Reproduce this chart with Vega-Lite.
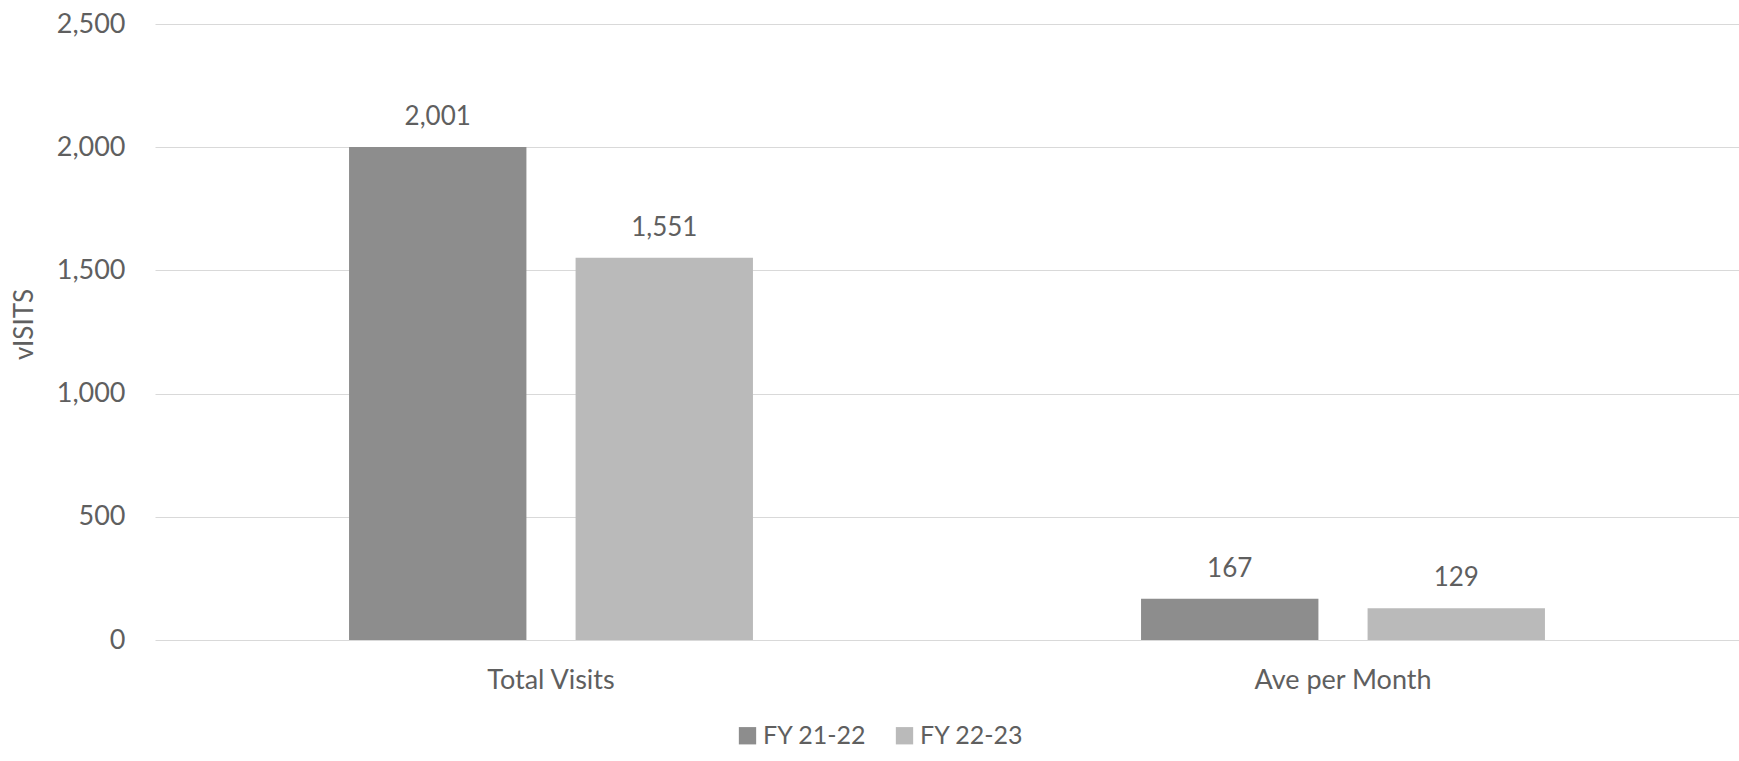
{
  "$schema": "https://vega.github.io/schema/vega-lite/v6.json",
  "width": 1584,
  "height": 616,
  "autosize": {"type": "none"},
  "padding": {"left": 155, "top": 24, "right": 0, "bottom": 121},
  "background": "white",
  "config": {
    "view": {"stroke": null},
    "font": "Lato",
    "axis": {"labelFont": "Lato", "titleFont": "Lato", "labelColor": "#5f5f5f", "titleColor": "#5f5f5f"}
  },
  "data": {
    "values": [
      {"measure": "Total Visits", "year": "FY 21-22", "visits": 2001},
      {"measure": "Total Visits", "year": "FY 22-23", "visits": 1551},
      {"measure": "Ave per Month", "year": "FY 21-22", "visits": 167},
      {"measure": "Ave per Month", "year": "FY 22-23", "visits": 129}
    ]
  },
  "encoding": {
    "x": {
      "field": "measure",
      "type": "nominal",
      "sort": ["Total Visits", "Ave per Month"],
      "scale": {"paddingInner": 0.49, "paddingOuter": 0.245},
      "axis": {
        "title": null,
        "labelAngle": 0,
        "domain": false,
        "ticks": false,
        "labelFontSize": 27,
        "labelBaseline": "middle",
        "labelPadding": 40
      }
    },
    "xOffset": {
      "field": "year",
      "type": "nominal",
      "scale": {"paddingInner": 0.217, "paddingOuter": 0}
    },
    "y": {
      "field": "visits",
      "type": "quantitative",
      "scale": {"domain": [0, 2500]},
      "axis": {
        "title": "vISITS",
        "titleFontSize": 26,
        "titleFontWeight": "normal",
        "titleX": -131,
        "titleY": 300,
        "titleAngle": -90,
        "titleAlign": "center",
        "titleBaseline": "middle",
        "values": [0, 500, 1000, 1500, 2000, 2500],
        "format": ",d",
        "labelFontSize": 27,
        "labelPadding": 30,
        "ticks": false,
        "domain": false,
        "gridColor": "#d9d9d9",
        "gridWidth": 1
      }
    }
  },
  "layer": [
    {
      "mark": {"type": "bar"},
      "encoding": {
        "color": {
          "field": "year",
          "type": "nominal",
          "scale": {"domain": ["FY 21-22", "FY 22-23"], "range": ["#8d8d8d", "#bababa"]},
          "legend": {
            "title": null,
            "orient": "none",
            "direction": "horizontal",
            "legendX": 580,
            "legendY": 699,
            "symbolType": "square",
            "symbolSize": 300,
            "symbolStrokeWidth": 0,
            "labelFontSize": 25,
            "labelOffset": 3,
            "labelColor": "#5f5f5f",
            "labelFont": "Lato",
            "columnPadding": 25
          }
        }
      }
    },
    {
      "mark": {"type": "text", "dy": -30, "baseline": "middle", "fontSize": 26, "color": "#5f5f5f"},
      "encoding": {
        "text": {"field": "visits", "type": "quantitative", "format": ",d"}
      }
    }
  ]
}
